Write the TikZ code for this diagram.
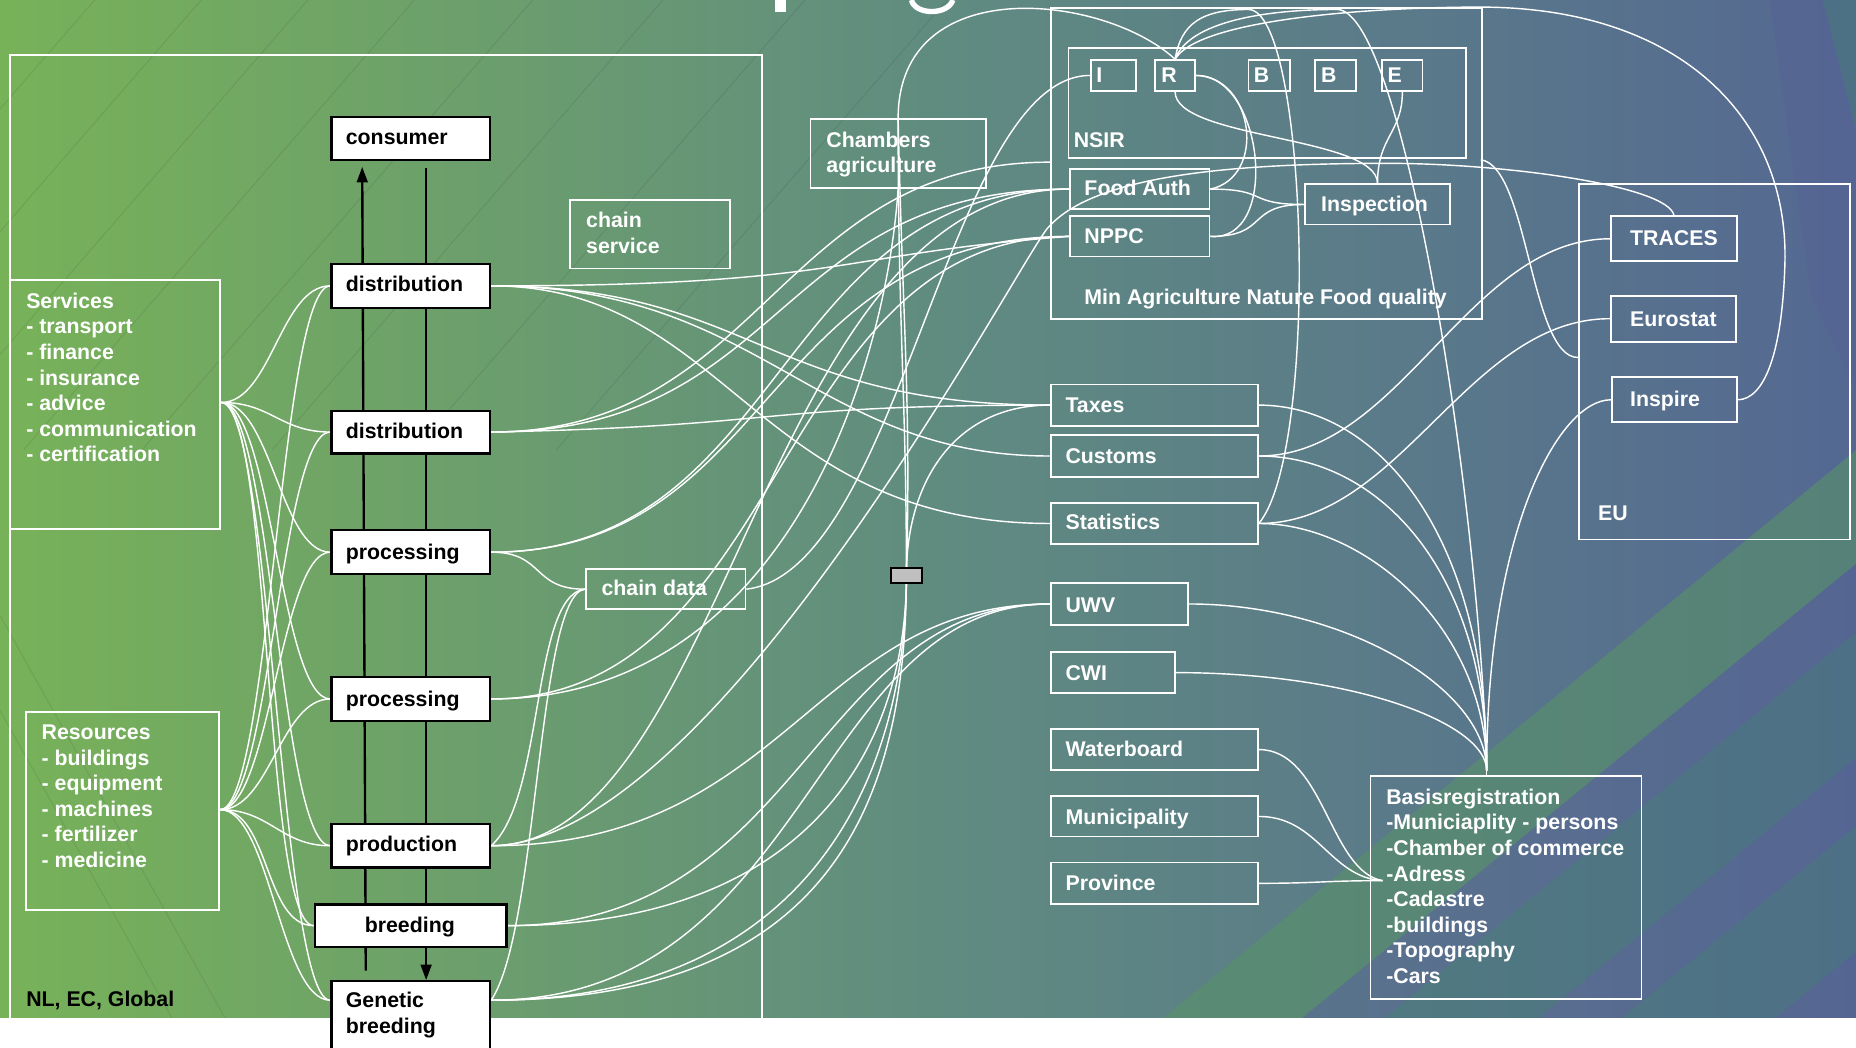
\documentclass[tikz,border=0pt]{standalone}
\usepackage{fontspec}
\setmainfont{Liberation Sans}
\usetikzlibrary{arrows.meta}
\definecolor{bgA}{RGB}{120,178,88}
\definecolor{bgB}{RGB}{96,140,128}
\definecolor{bgC}{RGB}{84,104,146}
\definecolor{bandG}{RGB}{88,146,104}
\definecolor{bandP}{RGB}{88,98,150}
\definecolor{bandT}{RGB}{70,122,120}
\definecolor{greyfill}{RGB}{192,192,192}
\newcommand\dfont{\fontsize{18}{21.6}\selectfont\bfseries}
\pgfdeclarelayer{bg}\pgfdeclarelayer{lines}\pgfsetlayers{bg,lines,main}
\begin{document}
\begin{tikzpicture}[x=1pt,y=-1pt,
  wbox/.style={draw=white, line width=1.5pt, inner sep=0pt, anchor=north west},
  kbox/.style={draw=black, fill=white, line width=2pt, inner sep=0pt, anchor=north west},
  wt/.style={text=white, font=\dfont, inner sep=0pt, anchor=base west},
  kt/.style={text=black, font=\dfont, inner sep=0pt, anchor=base west},
  wtm/.style={text=white, font=\dfont, inner sep=0pt, anchor=north west, align=left},
  ktm/.style={text=black, font=\dfont, inner sep=0pt, anchor=north west, align=left},
  conn/.style={draw=white, line width=1.2pt},
  blk/.style={draw=black, line width=2pt}]
\useasboundingbox (0,0) rectangle (1568,885);

% ---------------- boxes ----------------
\node[wbox, minimum width=635pt, minimum height=814pt] (frame) at (8,46) {};
\node[wbox, minimum width=177pt, minimum height=210pt] (services) at (8,236) {};
\node[wbox, minimum width=163pt, minimum height=167pt] (resources) at (21,601) {};
\node[kbox, minimum width=134pt, minimum height=36pt] (consumer) at (279,98) {};
\node[kbox, minimum width=134pt, minimum height=37pt] (dist1) at (279,222) {};
\node[kbox, minimum width=134pt, minimum height=36pt] (dist2) at (279,346) {};
\node[kbox, minimum width=134pt, minimum height=37pt] (proc1) at (279,447) {};
\node[kbox, minimum width=134pt, minimum height=37pt] (proc2) at (279,571) {};
\node[kbox, minimum width=134pt, minimum height=37pt] (prod) at (279,695) {};
\node[kbox, minimum width=162pt, minimum height=36pt] (breed) at (265,763) {};
\node[kbox, minimum width=134pt, minimum height=70pt] (gen) at (279,828) {};
\node[wbox, minimum width=135pt, minimum height=58pt] (chainservice) at (481,168) {};
\node[wbox, minimum width=135pt, minimum height=34pt] (chaindata) at (494,480) {};
\node[wbox, minimum width=148pt, minimum height=58pt] (chambers) at (684,100) {};
\node[wbox, minimum width=364pt, minimum height=263pt] (minagri) at (887,6) {};
\node[wbox, minimum width=336pt, minimum height=93pt] (nsir) at (902,40) {};
\node[wbox, minimum width=38pt, minimum height=26pt] (I) at (921,50) {};
\node[wbox, minimum width=34pt, minimum height=26pt] (R) at (975,50) {};
\node[wbox, minimum width=35pt, minimum height=26pt] (B1) at (1054,50) {};
\node[wbox, minimum width=35pt, minimum height=26pt] (B2) at (1110,50) {};
\node[wbox, minimum width=34pt, minimum height=26pt] (E) at (1167,50) {};
\node[wbox, minimum width=118pt, minimum height=34pt] (foodauth) at (903,142) {};
\node[wbox, minimum width=118pt, minimum height=34pt] (nppc) at (903,182) {};
\node[wbox, minimum width=122pt, minimum height=34pt] (inspection) at (1102,155) {};
\node[wbox, minimum width=229pt, minimum height=300pt] (eu) at (1333,155) {};
\node[wbox, minimum width=107pt, minimum height=38pt] (traces) at (1360,182) {};
\node[wbox, minimum width=106pt, minimum height=39pt] (eurostat) at (1360,249) {};
\node[wbox, minimum width=106pt, minimum height=38pt] (inspire) at (1361,318) {};
\node[wbox, minimum width=175pt, minimum height=35pt] (taxes) at (887,324) {};
\node[wbox, minimum width=175pt, minimum height=35pt] (customs) at (887,367) {};
\node[wbox, minimum width=175pt, minimum height=35pt] (statistics) at (887,424) {};
\node[wbox, minimum width=116pt, minimum height=35pt] (uwv) at (887,492) {};
\node[wbox, minimum width=105pt, minimum height=35pt] (cwi) at (887,550) {};
\node[wbox, minimum width=175pt, minimum height=35pt] (waterboard) at (887,615) {};
\node[wbox, minimum width=175pt, minimum height=34pt] (municipality) at (887,672) {};
\node[wbox, minimum width=175pt, minimum height=35pt] (province) at (887,728) {};
\node[wbox, minimum width=229pt, minimum height=188pt] (basis) at (1157,655) {};
\node[draw=black, fill=greyfill, line width=1.5pt, minimum width=26pt, minimum height=13pt, inner sep=0pt, anchor=north west] (grey) at (752,479) {};

% ---------------- texts ----------------
\node[wtm] (services-t) at (22,247.3) {Services\\- transport\\- finance\\- insurance\\- advice\\- communication\\- certification};
\node[wtm] (resources-t) at (35,612.3) {Resources\\- buildings\\- equipment\\- machines\\- fertilizer\\- medicine};
\node[kt] (nl-t) at (22,850.5) {NL, EC, Global};
\node[kt] (consumer-t) at (292,122.5) {consumer};
\node[kt] (dist1-t) at (292,246.5) {distribution};
\node[kt] (dist2-t) at (292,370.5) {distribution};
\node[kt] (proc1-t) at (292,472.5) {processing};
\node[kt] (proc2-t) at (292,596.5) {processing};
\node[kt] (prod-t) at (292,719.5) {production};
\node[kt] (breed-t) at (308,787.5) {breeding};
\node[ktm] (gen-t) at (292,838.3) {Genetic\\breeding};
\node[wtm] (chainservice-t) at (495,179.3) {chain\\service};
\node[wt] (chaindata-t) at (508,503.5) {chain data};
\node[wtm] (chambers-t) at (698,111.3) {Chambers\\agriculture};
\node[wt] (I-t) at (926,69.5) {I};
\node[wt] (R-t) at (981,69.5) {R};
\node[wt] (B1-t) at (1059,69.5) {B};
\node[wt] (B2-t) at (1116,69.5) {B};
\node[wt] (E-t) at (1172,69.5) {E};
\node[wt] (nsir-t) at (907,124.5) {NSIR};
\node[wt] (foodauth-t) at (916,165.5) {Food Auth};
\node[wt] (nppc-t) at (916,205.5) {NPPC};
\node[wt] (inspection-t) at (1116,178.5) {Inspection};
\node[wt] (minagri-t) at (916,257.5) {Min Agriculture Nature Food quality};
\node[wt] (traces-t) at (1377,207.5) {TRACES};
\node[wt] (eurostat-t) at (1377,275.5) {Eurostat};
\node[wt] (inspire-t) at (1377,343.5) {Inspire};
\node[wt] (eu-t) at (1350,439.5) {EU};
\node[wt] (taxes-t) at (900,348.5) {Taxes};
\node[wt] (customs-t) at (900,391.5) {Customs};
\node[wt] (statistics-t) at (900,447.5) {Statistics};
\node[wt] (uwv-t) at (900,517.5) {UWV};
\node[wt] (cwi-t) at (900,574.5) {CWI};
\node[wt] (waterboard-t) at (900,639.5) {Waterboard};
\node[wt] (municipality-t) at (900,696.5) {Municipality};
\node[wt] (province-t) at (900,752.5) {Province};
\node[wtm] (basis-t) at (1171,666.3) {Basisregistration\\-Municiaplity - persons\\-Chamber of commerce\\-Adress\\-Cadastre\\-buildings\\-Topography\\-Cars};

% ---------------- helper coordinates ----------------
\coordinate (svcP) at (187,340);
\coordinate (resP) at (186,684);
\coordinate (genW) at ([yshift=-17pt]gen.north west);
\coordinate (genE) at ([yshift=-17pt]gen.north east);
\coordinate (maL) at (887,137);
\coordinate (maR) at (1251,135);
\coordinate (euL) at (1333,302);
\coordinate (fan) at (1256,651);
\coordinate (adr) at (1168,744);
\coordinate (upTip) at (306,141);
\coordinate (leftEnd) at (309,820);
\coordinate (rTop) at (360,142);

% ---------------- background ----------------
\begin{pgfonlayer}{bg}
\shade[left color=bgA, right color=bgC, middle color=bgB] (0,0) rectangle (1568,860);
\foreach \bx/\bw/\bc/\bo in {983/117/bandG/0.6, 1100/70/bandP/0.35, 1170/130/bandT/0.45, 1300/70/bandP/0.35, 1370/130/bandT/0.45, 1500/140/bandP/0.35}{
  \fill[\bc, opacity=\bo] (\bx,860) -- ++(\bw,0) -- ++(1049,-860) -- ++(-\bw,0) -- cycle;}
\fill[bandP, opacity=0.45] (1495,0) -- (1568,0) -- (1568,330) -- (1530,250) -- cycle;
\fill[bandT, opacity=0.55] (1540,0) -- (1568,0) -- (1568,110) -- cycle;
\foreach \fx in {80,170,260,350,450,560,680,800}{
  \draw[black, opacity=0.07, line width=1pt] (\fx,0) -- ++(-330,380);}
\foreach \fy in {520,600}{
  \draw[black, opacity=0.07, line width=1pt] (0,\fy) -- ++(190,340);}
\fill[white] (0,860) rectangle (1568,885);
% fragments of the cut-off title
\fill[white] (655,0) rectangle (664,10);
\draw[white, line width=4.5pt] (770,0) .. controls (773,13) and (801,13) .. (805,0);
% black chain arrows
\draw[blk, -{Triangle[length=13pt,width=9pt]}] (leftEnd) -- (upTip);
\draw[blk, -{Triangle[length=13pt,width=9pt]}] (rTop) -- (rTop |- gen.north);
\end{pgfonlayer}

% ---------------- connectors ----------------
\begin{pgfonlayer}{lines}
% services / resources fans
\foreach \nm in {dist1,dist2,proc1,proc2,prod,breed}{
  \draw[conn] (svcP) .. controls +(42,0) and +(-42,0) .. (\nm.west);
  \draw[conn] (resP) .. controls +(42,0) and +(-42,0) .. (\nm.west);}
\draw[conn] (svcP) .. controls +(42,0) and +(-42,0) .. (genW);
\draw[conn] (resP) .. controls +(42,0) and +(-42,0) .. (genW);

% chain to authorities
\draw[conn] (dist1.east) .. controls +(300,0) and +(-200,15) .. (nppc.west);
\draw[conn] (dist1.east) .. controls +(220,0) and +(-240,0) .. (taxes.west);
\draw[conn] (dist1.east) .. controls +(230,0) and +(-200,0) .. (customs.west);
\draw[conn] (dist1.east) .. controls +(200,0) and +(-250,0) .. (statistics.west);
\draw[conn] (dist2.east) .. controls +(250,-5) and +(-250,0) .. (taxes.west);
\draw[conn] (dist2.east) .. controls +(250,0) and +(-250,0) .. (foodauth.west);
\draw[conn] (dist2.east) .. controls +(230,0) and +(-230,0) .. (maL);
\draw[conn] (proc1.east) .. controls +(240,0) and +(-260,0) .. (nppc.west);
\draw[conn] (proc1.east) .. controls +(250,0) and +(-250,0) .. (foodauth.west);
\draw[conn] (proc1.east) .. controls +(45,0) and +(-45,0) .. (chaindata.west);
\draw[conn] (chaindata.east) .. controls +(130,-15) and +(-120,0) .. (I.west);
\draw[conn] (chaindata.west) .. controls +(-45,5) and +(45,-40) .. (prod.east);
\draw[conn] (chaindata.west) .. controls +(-40,5) and +(40,-60) .. (genE);
\draw[conn] (proc2.east) .. controls +(250,0) and +(-250,0) .. (nppc.west);
\draw[conn] (prod.east) .. controls +(200,0) and +(-260,0) .. (foodauth.west);
\draw[conn] (prod.east) .. controls +(250,0) and +(-200,0) .. (uwv.west);
\draw[conn] (breed.east) .. controls +(250,0) and +(-200,0) .. (uwv.west);
\draw[conn] (genE) .. controls +(270,0) and +(-200,0) .. (uwv.west);
\draw[conn] (chambers.north) .. controls +(0,180) and +(0,-150) .. (grey.center) .. controls +(0,180) and +(260,0) .. (genE);
\draw[conn] (chambers.north) .. controls +(4,180) and +(4,-150) .. (grey.center) .. controls +(0,150) and +(250,0) .. (breed.east);
\draw[conn] (taxes.west) .. controls +(-80,0) and +(0,-80) .. (grey.center) .. controls +(0,200) and +(280,0) .. (genE);
\draw[conn] (chambers.south) .. controls +(-10,150) and +(250,0) .. (proc2.east);
\draw[conn] (traces.north) .. controls +(-5,-25) and +(100,0) .. (1172,138) .. controls (1030,138) and (920,150) .. (884,194) .. controls (850,240) and (600,713) .. (prod.east);

% ministry, NSIR and EU
\draw[conn] (chambers.north) .. controls +(0,-125) and +(-60,-55) .. (R.north);
\draw[conn] (R.north) .. controls +(5,-30) and +(-40,0) .. (1055,8) .. controls (1105,10) and (1115,380) .. (statistics.east);
\draw[conn] (R.north) .. controls +(12,-32) and +(-60,0) .. (1130,8) .. controls (1185,10) and (1250,420) .. (fan);
\draw[conn] (R.north) .. controls +(20,-34) and +(-90,0) .. (1250,6) .. controls (1420,6) and (1510,100) .. (1508,220) .. controls (1506,300) and (1490,337) .. (inspire.east);
\draw[conn] (R.east) .. controls (1060,65) and (1070,150) .. (foodauth.east);
\draw[conn] (R.east) .. controls (1068,63) and (1082,205) .. (nppc.east);
\draw[conn] (R.south) .. controls +(0,40) and +(0,-40) .. (inspection.north);
\draw[conn] (E.south) .. controls +(0,35) and +(0,-40) .. (inspection.north);
\draw[conn] (foodauth.east) .. controls +(50,0) and +(-50,0) .. (inspection.west);
\draw[conn] (nppc.east) .. controls +(50,0) and +(-50,0) .. (inspection.west);
\draw[conn] (maR) .. controls +(40,5) and +(-40,0) .. (euL);
\draw[conn] (traces.west) .. controls +(-120,0) and +(120,0) .. (customs.east);
\draw[conn] (eurostat.west) .. controls +(-120,0) and +(120,0) .. (statistics.east);
\draw[conn] (inspire.west) .. controls +(-45,0) and +(0,-200) .. (fan);

% basis registrations
\draw[conn] (taxes.east) .. controls +(100,0) and +(0,-200) .. (fan);
\draw[conn] (customs.east) .. controls +(100,0) and +(0,-170) .. (fan);
\draw[conn] (statistics.east) .. controls +(90,0) and +(0,-120) .. (fan);
\draw[conn] (uwv.east) .. controls +(130,0) and +(0,-70) .. (fan);
\draw[conn] (cwi.east) .. controls +(150,0) and +(0,-40) .. (fan);
\draw[conn] (fan) -- (fan |- basis.north);
\draw[conn] (waterboard.east) .. controls +(55,0) and +(-45,-8) .. (adr);
\draw[conn] (municipality.east) .. controls +(50,0) and +(-45,-3) .. (adr);
\draw[conn] (province.east) .. controls +(50,0) and +(-50,0) .. (adr);
\end{pgfonlayer}
\end{tikzpicture}
\end{document}
